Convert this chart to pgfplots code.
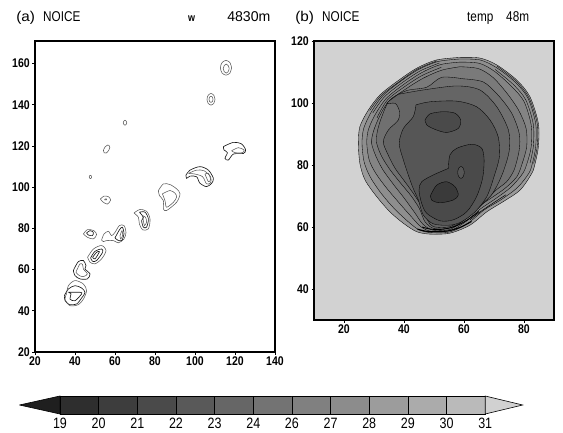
\documentclass[border=0pt]{standalone}
\usepackage{pgfplots}
\pgfplotsset{compat=1.18}
\usepackage{fontspec}
\setmainfont{Liberation Sans}
\definecolor{bg}{HTML}{D2D2D2}
\definecolor{lv0}{HTML}{9A9A9A}
\definecolor{lv1}{HTML}{8E8E8E}
\definecolor{lv2}{HTML}{848484}
\definecolor{lv3}{HTML}{7A7A7A}
\definecolor{lv4}{HTML}{707070}
\definecolor{lv5}{HTML}{656565}
\definecolor{lv6}{HTML}{565656}
\definecolor{lv7}{HTML}{4A4A4A}
\definecolor{lv8}{HTML}{3A3A3A}
\pgfplotsset{
  panel/.style={scale only axis, axis on top, clip=true, line width=1.5pt,
    tick align=outside, xtick pos=bottom, ytick pos=left, major tick length=2.5pt,
    tick style={line width=0.9pt,black},
    ticklabel style={font=\fontsize{10.5}{12}\selectfont\bfseries, yscale=1.2},
    /pgf/number format/assume math mode=true,
    x tick label style={inner sep=1pt, yshift=-0.5pt}, y tick label style={inner sep=2pt}},
  cb/.style={no markers, forget plot, smooth, line width=0.55pt, draw=black!65},
  cd/.style={no markers, forget plot, smooth, line width=0.65pt, draw=black!90},
  ring/.style={no markers, forget plot, smooth, line width=0.35pt, draw=black, fill=#1},
  arc/.style={no markers, forget plot, smooth, line width=#1, draw=black},
  box/.style={no markers, forget plot, sharp plot, line width=0.6pt, draw=black, fill=#1}
}
\begin{document}
\begin{tikzpicture}[x=1pt,y=1pt]
\path[use as bounding box] (0,0) rectangle (563,432);
\begin{axis}[panel, at={(35pt,80pt)}, anchor=south west, width=240pt, height=311pt,
  xmin=20, xmax=140, ymin=20, ymax=171, xtick={20,40,...,140}, ytick={20,40,...,160}]
\addplot[cd] coordinates {(34.7,47.4)(36.7,50.6)(40,52.2)(43.3,51.1)(45,48.9)(43.3,46.2)(40.8,43.3)(37.2,43)(35,45)(34.7,47.4)};
\addplot[cb] coordinates {(35.8,48.2)(36.7,52.2)(40,54.7)(44.2,53)(45.8,49.8)(44.2,45.7)(41.7,43)(37.5,42.5)(35,45.7)(35.8,48.2)};
\addplot[cd] coordinates {(36.7,49)(42.5,49)(43.3,48.2)(40,44.9)(37.5,45.7)(38,48.2)(36.7,49)};
\addplot[cd] coordinates {(39.5,60.3)(41.7,63.9)(44.2,64.4)(45.5,61.9)(45,60.3)(47.5,57.9)(46.2,55.5)(42.5,55.5)(40,57.1)(39.2,59.5)(39.5,60.3)};
\addplot[cb] coordinates {(41.2,60.3)(42.5,62.8)(43.8,62.5)(44.2,60.3)(46.2,57.9)(44.2,56.6)(42.2,57.1)(40.5,58.7)(41.2,60.3)};
\addplot[cb] coordinates {(46.3,66)(49.2,70)(53.3,71.7)(55.5,69.2)(53.3,65.2)(50,62.8)(47.5,63.6)(46.3,66)};
\addplot[cd] coordinates {(47.8,65.7)(50,68.9)(53.3,70)(53.8,68.4)(50.8,64.4)(48.8,64)(47.8,65.7)};
\addplot[cd] coordinates {(48.8,66)(50.8,68.4)(52.2,68.7)(50,65.2)(48.8,66)};
\addplot[cb] coordinates {(44.2,77.3)(46.2,79.4)(49.5,78.9)(50.8,77)(49.2,74.9)(46.2,75.7)(44.2,77.3)};
\addplot[cd] coordinates {(45.8,77.8)(47.5,78.9)(49.2,78.1)(48.7,76.5)(46.7,76.8)(45.8,77.8)};
\addplot[cb] coordinates {(53.3,74.4)(54.5,77.3)(56.7,78.6)(58.3,76.5)(60,78.1)(62.2,81.4)(64.5,81.4)(65.5,78.1)(64.5,74.9)(61.7,73)(59.2,74.1)(55.8,74.1)(54.2,73.6)(53.3,74.4)};
\addplot[cd] coordinates {(60,75.4)(62.2,79.3)(63.7,80.6)(64.5,77.3)(63.3,74.1)(61.2,74.4)(60,75.4)};
\addplot[cb] coordinates {(62.5,76.5)(63.5,78.9)(63.8,76.5)(62.8,74.9)(62.5,76.5)};
\addplot[cb] coordinates {(69.5,87.5)(72.5,89.2)(75.8,88.3)(77.5,84.6)(76.7,79.8)(73.8,79.3)(72.2,82.2)(71.7,85.4)(69.5,87.5)};
\addplot[cd] coordinates {(72.2,87.9)(75,87.9)(76.7,84.6)(75.8,80.6)(74.2,80.6)(73.3,83.8)(74.2,85.4)(72.2,87.9)};
\addplot[cb] coordinates {(73.8,86.2)(75.3,85.4)(75.8,83)(74.7,81.4)(74.2,83.8)(73.8,86.2)};
\addplot[cb] coordinates {(81.7,98.4)(84.2,101.6)(87.5,101.3)(90.8,99.2)(92.5,96.8)(90.8,92.7)(85.8,88.7)(84.2,89.5)(84.2,93.5)(82.2,96)(81.7,98.4)};
\addplot[cb] coordinates {(83.7,96.8)(87.5,98.4)(90,97.1)(90.8,95.2)(89.2,92.7)(85.8,90.3)(85,93.5)(83.7,96.8)};
\addplot[cd] coordinates {(95.5,105.9)(97.5,108.3)(102.5,110)(106.7,108.3)(109.2,104.3)(108.3,101.9)(105.8,100.3)(102.5,101.9)(100.8,105.1)(97.5,105.4)(95.8,104.3)(95.5,105.9)};
\addplot[cb] coordinates {(96.7,106.7)(100.8,108.3)(104.5,108)(107.8,105.1)(107.8,102.2)(105.8,101.6)(103.8,105.1)(100,106.4)(96.7,106.7)};
\addplot[cb] coordinates {(105,106.4)(106.7,106.7)(107.8,103.8)(106.7,102.7)(105,106.4)};
\addplot[cd] coordinates {(114.2,119.7)(119.2,121.8)(123.3,121)(125.3,118.1)(124.2,116.4)(119.2,116.1)(116.7,113.2)(115,114)(116.2,116.8)(114.5,118.1)(114.2,119.7)};
\addplot[cb] coordinates {(118.3,117.7)(121.7,119.2)(124.5,118.1)(123.8,116.8)(120,116.8)(118.3,117.7)};
\addplot[cb] coordinates {(118.3,158)(117.5,160.5)(115.5,161.6)(113.5,160.5)(112.7,158)(113.5,155.5)(115.5,154.4)(117.5,155.5)(118.3,158)};
\addplot[cb] coordinates {(117.1,157.6)(116.6,159.1)(115.6,159.8)(114.6,159.1)(114.1,157.6)(114.6,156.1)(115.6,155.4)(116.6,156.1)(117.1,157.6)};
\addplot[cb] coordinates {(110,142.7)(109.4,144.7)(108,145.5)(106.6,144.7)(106,142.7)(106.6,140.7)(108,139.9)(109.4,140.7)(110,142.7)};
\addplot[cb] coordinates {(109,142.7)(108.7,143.8)(108,144.2)(107.3,143.8)(107,142.7)(107.3,141.6)(108,141.2)(108.7,141.6)(109,142.7)};
\addplot[cb] coordinates {(65.9,131.3)(65.6,132.1)(65,132.5)(64.4,132.1)(64.1,131.3)(64.4,130.5)(65,130.1)(65.6,130.5)(65.9,131.3)};
\addplot[cb] coordinates {(57.4,119.3)(57,120.3)(56.4,120.5)(55,119.5)(54.2,117.8)(54.6,116.7)(55.6,116.6)(56.8,117.8)(57.4,119.3)};
\addplot[cb] coordinates {(48.3,105)(48.1,105.6)(47.7,105.8)(47.3,105.6)(47.1,105)(47.3,104.4)(47.7,104.2)(48.1,104.4)(48.3,105)};
\addplot[cb] coordinates {(52.7,94.3)(54.5,95.7)(56.7,95.4)(57.8,93.8)(56.2,91.8)(53.8,93)(52.7,94.3)};
\addplot[cb] coordinates {(54.8,94.2)(55.6,94.4)(55.8,93.9)(55,93.8)(54.8,94.2)};
\end{axis}
\begin{axis}[panel, at={(314pt,112pt)}, anchor=south west, width=240pt, height=279pt,
  axis background/.style={fill=bg},
  xmin=10, xmax=90, ymin=30, ymax=120, xtick={20,40,60,80}, ytick={40,60,...,120}]
\addplot[ring=lv0] coordinates {(58.7,114.7)(65.3,114.5)(70.9,112.3)(77.6,107.4)(82,102)(84.8,93.4)(84.8,85.9)(83.7,80.5)(82.6,77.3)(78.7,71.9)(73.1,68.2)(67.6,64.9)(62,60.6)(55.3,58)(48.7,57.7)(44.2,58.5)(39.8,61.2)(35.3,64.9)(30.9,69.8)(27,75.2)(25.3,80.5)(24.8,87)(25.3,92.4)(28.1,97.7)(32,102.6)(37.6,106.9)(44.2,111.2)(50.9,113.9)(58.7,114.7)};
\addplot[ring=lv1] coordinates {(58.7,114.2)(65.3,113.9)(70.7,111.5)(77,106.8)(81.3,101.6)(83.9,93.4)(83.9,85.9)(82.8,80.5)(81.6,77.3)(77.8,72.7)(72.2,68.7)(66.7,65.5)(61.3,61.2)(55.3,58.4)(48.9,58.2)(44.8,59.2)(40.7,62.3)(36.4,66.3)(32.2,71.1)(28.7,76.2)(26.7,81)(26,87)(26.6,91.9)(29.2,97.3)(32.9,102.3)(38.3,106.6)(44.8,110.8)(51.4,113.4)(58.7,114.2)};
\addplot[ring=lv2] coordinates {(58.7,113.2)(65.1,112.8)(70.2,110.2)(75.9,105.3)(80,100.5)(82.4,92.9)(82.4,85.9)(81.1,80.8)(79.6,77.3)(75.6,72.8)(70.3,69)(65.3,65.7)(60.7,61.8)(55.3,58.8)(49.1,58.6)(45.6,60.1)(42,63.8)(38,68.2)(34,72.8)(30.6,77.3)(28.4,81.6)(27.6,87)(28.1,91.3)(30.3,96.1)(34,101.4)(39.6,105.8)(45.9,109.8)(52.2,112.4)(58.7,113.2)};
\addplot[ring=lv3] coordinates {(58.7,111.7)(64.8,111.1)(69.6,108.3)(74.2,103.3)(78.2,97.7)(80.7,91.8)(80.9,85.9)(79.4,80.5)(77.6,76.2)(73.7,72.5)(68.7,69.1)(64,66)(60,62.3)(55.3,59.2)(49.6,59)(46.2,61)(43.6,64.6)(40,69.4)(36.6,73.6)(33,78.4)(30.7,82.7)(29.2,87)(29.8,90.8)(31.8,95.6)(34.8,100.4)(40.7,104.6)(46.4,108)(52.6,110.6)(58.7,111.7)};
\addplot[ring=lv4] coordinates {(59.8,107.8)(66.4,106.8)(71.4,102.5)(75.9,96.7)(78.4,90.2)(78.4,84.8)(76.7,78.4)(74.2,74.6)(70.7,71.9)(65.9,67.1)(60.9,62.8)(55.3,59.7)(50,59.5)(47,61.7)(45.1,66)(42.4,70)(39,74)(35.4,78.4)(32.6,82.7)(30.9,87)(31.1,90.8)(32.6,95.6)(35.3,101)(40.9,104)(47.6,105.1)(52.6,108.3)(59.8,107.8)};
\addplot[ring=lv5] coordinates {(38.1,102.8)(46.4,104.2)(57.6,105.5)(65.3,104.2)(70.9,98.8)(74.8,91.3)(75.1,84.8)(73.3,78.4)(71.1,73.5)(68.7,69.8)(64.2,66)(59.8,62.8)(55.3,60.1)(49.8,60.1)(47.8,62.3)(45.9,66.6)(43,71)(40.3,74.6)(37,79)(34.6,83.5)(33.1,87.5)(34.8,91.3)(38.1,94.5)(38.4,97.7)(37,99.9)(34.2,99.9)(38.1,102.8)};
\addplot[ring=lv6] coordinates {(44,99.4)(48.7,100.4)(57.6,100.6)(64.2,98.8)(68.7,94.5)(71.4,89.1)(71.8,82.7)(70,76.2)(67.6,69.8)(63.7,64.9)(59.2,61.7)(55.3,60.6)(49.8,61)(46.4,63.9)(44.8,68.7)(43.3,71.9)(42,75.2)(39.8,81.6)(38.4,87)(39.8,91.8)(43.1,95.6)(44,99.4)};
\addplot[ring=lv7] coordinates {(54.8,78.9)(55.3,83.2)(57.6,85.4)(62.6,86.7)(65.9,85.4)(66.7,81.6)(66.2,75.7)(64.2,69.8)(60.9,64.9)(56.4,62.3)(52,62)(47.6,64.4)(45.9,67.6)(45,71.9)(45.9,74.6)(49.8,76.8)(54.8,78.9)};
\addplot[ring=lv7] coordinates {(47,94.5)(48.7,96.5)(53.1,97.2)(57,96.7)(58.9,94.5)(58.1,91.8)(54.2,90.5)(50.3,91.5)(47.6,92.9)(47,94.5)};
\addplot[ring=lv8] coordinates {(48.9,70.3)(50.9,73.5)(54.2,74.6)(57,73)(58.1,70.3)(56.4,68.7)(52,67.8)(49.2,68.7)(48.9,70.3)};
\addplot[ring=lv6] coordinates {(60.1,77.6)(59.8,78.9)(59,79.5)(58.2,78.9)(57.9,77.6)(58.2,76.3)(59,75.7)(59.8,76.3)(60.1,77.6)};
\addplot[arc=1.1pt] coordinates {(44.5,59.3)(47.5,58.6)(51,58.5)(55,58.8)(59,60)(62.5,61.8)};
\addplot[arc=0.9pt] coordinates {(46,60)(49,59.3)(53,59.3)(57,60.2)(61,62.2)(65,65)};
\addplot[arc=0.5pt] coordinates {(62,62.3)(66,65.3)(70,67.9)(74,70.4)};
\addplot[arc=0.35pt] coordinates {(28.6,97.6)(32.4,102.4)(38,106.6)(44.4,110.9)(51,113.6)};
\addplot[arc=0.35pt] coordinates {(29.6,96.8)(33.4,101.9)(38.9,106.2)(45.3,110.3)(51.8,112.9)};
\addplot[arc=0.35pt] coordinates {(31,95.2)(34.4,100.9)(40.1,105.2)(46.1,108.9)(52.4,111.5)};
\addplot[arc=0.35pt] coordinates {(71,111.9)(77.3,107.1)(81.6,101.8)(84.4,93.4)(84.4,85.9)(83.2,80.5)};
\addplot[arc=0.35pt] coordinates {(70.4,110.8)(76.4,106)(80.6,101)(83.1,93.1)(83.1,85.9)(82,80.6)};
\end{axis}
\begin{axis}[scale only axis, at={(19.4pt,18pt)}, anchor=south west, width=503.3pt, height=18pt,
  xmin=-1.05, xmax=11.97, ymin=0, ymax=1, clip=false, axis line style={draw=none},
  xtick={0,1,...,11}, xticklabels={19,20,21,22,23,24,26,27,28,29,30,31}, ytick=\empty,
  major tick length=0pt, ticklabel style={font=\fontsize{12.5}{14}\selectfont, inner sep=1pt, yscale=1.2, yshift=-2.5pt},
  xtick pos=bottom]
\addplot[box={black!88}] coordinates {(-1.05,0.5)(0,1)(0,0)(-1.05,0.5)};
\addplot[box={black!82}] coordinates {(0,0)(1,0)(1,1)(0,1)(0,0)};
\addplot[box={black!76}] coordinates {(1,0)(2,0)(2,1)(1,1)(1,0)};
\addplot[box={black!71}] coordinates {(2,0)(3,0)(3,1)(2,1)(2,0)};
\addplot[box={black!65}] coordinates {(3,0)(4,0)(4,1)(3,1)(3,0)};
\addplot[box={black!60}] coordinates {(4,0)(5,0)(5,1)(4,1)(4,0)};
\addplot[box={black!55}] coordinates {(5,0)(6,0)(6,1)(5,1)(5,0)};
\addplot[box={black!50}] coordinates {(6,0)(7,0)(7,1)(6,1)(6,0)};
\addplot[box={black!45}] coordinates {(7,0)(8,0)(8,1)(7,1)(7,0)};
\addplot[box={black!39}] coordinates {(8,0)(9,0)(9,1)(8,1)(8,0)};
\addplot[box={black!33}] coordinates {(9,0)(10,0)(10,1)(9,1)(9,0)};
\addplot[box={black!27}] coordinates {(10,0)(11,0)(11,1)(10,1)(10,0)};
\addplot[box={black!18}] coordinates {(11,0)(11.97,0.5)(11,1)(11,0)};
\end{axis}
\tikzset{ttl/.style={anchor=base west, inner sep=0pt, font=\fontsize{10.5}{12}\selectfont, xscale=1.12, yscale=1.35}}
\node[ttl,xscale=1.3] at (16,410.5) {(a)};
\node[ttl] at (43,410.5) {NOICE};
\node[ttl,font=\fontsize{8}{10}\selectfont\bfseries,xscale=1] at (188,410.5) {w};
\node[ttl,xscale=1.2] at (227,410.5) {4830m};
\node[ttl,xscale=1.3] at (295,410.5) {(b)};
\node[ttl] at (322,410.5) {NOICE};
\node[ttl] at (467,410.5) {temp};
\node[ttl] at (506,410.5) {48m};
\end{tikzpicture}
\end{document}
